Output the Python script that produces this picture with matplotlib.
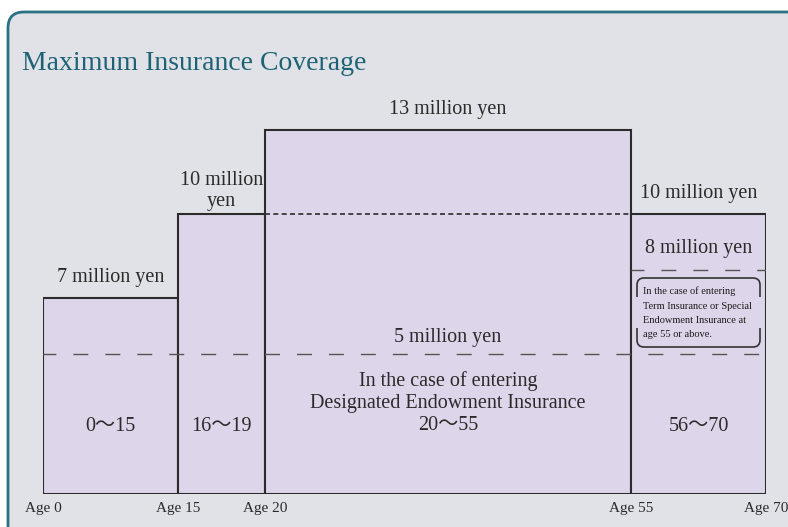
import numpy as np
import matplotlib
matplotlib.use("Agg")
import matplotlib.pyplot as plt
from matplotlib.patches import FancyBboxPatch, Rectangle

plt.rcParams['font.family'] = ['Liberation Serif', 'Noto Sans CJK JP', 'DejaVu Sans']

# data
ages = [0, 15, 20, 55, 70]
coverage = [7, 10, 13, 10]          # million yen, per age band
band_labels = ['0〜15', '16〜19', '20〜55', '56〜70']
cover_labels = ['7 million yen', '10 million\nyen', '13 million yen', '10 million yen']
age_labels = ['Age 0', 'Age 15', 'Age 20', 'Age 55', 'Age 70']
endow_limit = 5                     # designated endowment, ages 20-55
term_limit = 8                      # term / special endowment, age 55+
note_text = ('In the case of entering\nTerm Insurance or Special\n'
             'Endowment Insurance at\nage 55 or above.')

# the drawing is not to scale on x: display width of each age band (px)
band_px = [135, 87, 366, 135]
edge_px = np.concatenate([[0], np.cumsum(band_px)])

fill = '#ddd5e9'
edge = '#2b2b2b'
bg = '#e1e2e7'
teal = '#1e6375'
txt = '#2a2a2a'

fig = plt.figure(figsize=(7.88, 5.27), dpi=100)
fig.patch.set_facecolor('white')

# background panel in pixel coords
back = fig.add_axes([0, 0, 1, 1], zorder=0)
back.set_xlim(0, 788)
back.set_ylim(527, 0)
back.axis('off')
back.add_patch(FancyBboxPatch((8, 12), 820, 560,
                              boxstyle='round,pad=0,rounding_size=16',
                              facecolor=bg, edgecolor='#2b7284', lw=2))
back.text(22, 63, 'Maximum Insurance Coverage', fontsize=20, color=teal,
          ha='left', va='center')

# main chart
ax = fig.add_axes([43 / 788, 33 / 527, 723 / 788, 420 / 527], zorder=1)
ax.set_xscale('function', functions=(lambda a: np.interp(a, ages, edge_px),
                                     lambda p: np.interp(p, edge_px, ages)))
ax.set_xlim(ages[0], ages[-1])
ax.set_ylim(0, 15)
ax.set_facecolor('none')
for s in ax.spines.values():
    s.set_visible(False)

left = ages[:-1]
widths = np.diff(ages)
ax.bar(left, coverage, width=widths, align='edge', color=fill,
       edgecolor=edge, lw=1.5, zorder=1)

# limit lines
long_dash = (1.5, (10.8, 12.2))
ax.plot([ages[0], ages[-1]], [endow_limit, endow_limit], color='#555555',
        lw=1.0, ls=long_dash, zorder=2)
ax.plot([ages[3], ages[4]], [term_limit, term_limit], color='#555555',
        lw=1.0, ls=long_dash, zorder=2)
ax.plot([ages[2], ages[3]], [coverage[1], coverage[1]], color=edge,
        lw=1.2, ls=(0, (3, 2)), zorder=2)

mid_disp = [np.interp((edge_px[i] + edge_px[i + 1]) / 2, edge_px, ages)
            for i in range(len(coverage))]

for m, c, lab in zip(mid_disp, coverage, cover_labels):
    off = 2 if '\n' in lab else 8
    ax.annotate(lab, (m, c), xytext=(0, off), textcoords='offset points',
                ha='center', va='bottom', fontsize=14.5, color=txt,
                linespacing=1.15)

for i, (m, lab) in enumerate(zip(mid_disp, band_labels)):
    if i == 2:
        lab = 'In the case of entering\nDesignated Endowment Insurance\n' + lab
        ax.text(m, 3.25, lab, ha='center', va='center', fontsize=14.5,
                color=txt, linespacing=1.2)
    else:
        ax.text(m, 2.4, lab, ha='center', va='center', fontsize=14.5,
                color=txt)

ax.annotate(f'{endow_limit} million yen', (mid_disp[2], endow_limit),
            xytext=(0, 5), textcoords='offset points', ha='center',
            va='bottom', fontsize=14.5, color=txt)
ax.annotate(f'{term_limit} million yen', (mid_disp[3], term_limit),
            xytext=(0, 9), textcoords='offset points', ha='center',
            va='bottom', fontsize=14.5, color=txt)

ax.set_xticks(ages)
ax.set_xticklabels(age_labels, fontsize=11, color=txt)
ax.tick_params(axis='x', length=0, pad=6)
ax.set_yticks([])

# note box for the 55+ band, drawn on top in pixel coords
top = fig.add_axes([0, 0, 1, 1], zorder=3)
top.set_xlim(0, 788)
top.set_ylim(527, 0)
top.axis('off')
top.add_patch(FancyBboxPatch((637, 278), 123, 69,
                             boxstyle='round,pad=0,rounding_size=7',
                             facecolor='none', edgecolor='#333333', lw=1.2))
top.add_patch(Rectangle((634, 297), 6, 31, facecolor=fill, edgecolor='none'))
top.add_patch(Rectangle((757, 297), 6, 31, facecolor=fill, edgecolor='none'))
top.text(643, 313, note_text, ha='left', va='center', fontsize=7.5,
         color='#1a1a1a', linespacing=1.75)

fig.savefig('out.png', dpi=100)
